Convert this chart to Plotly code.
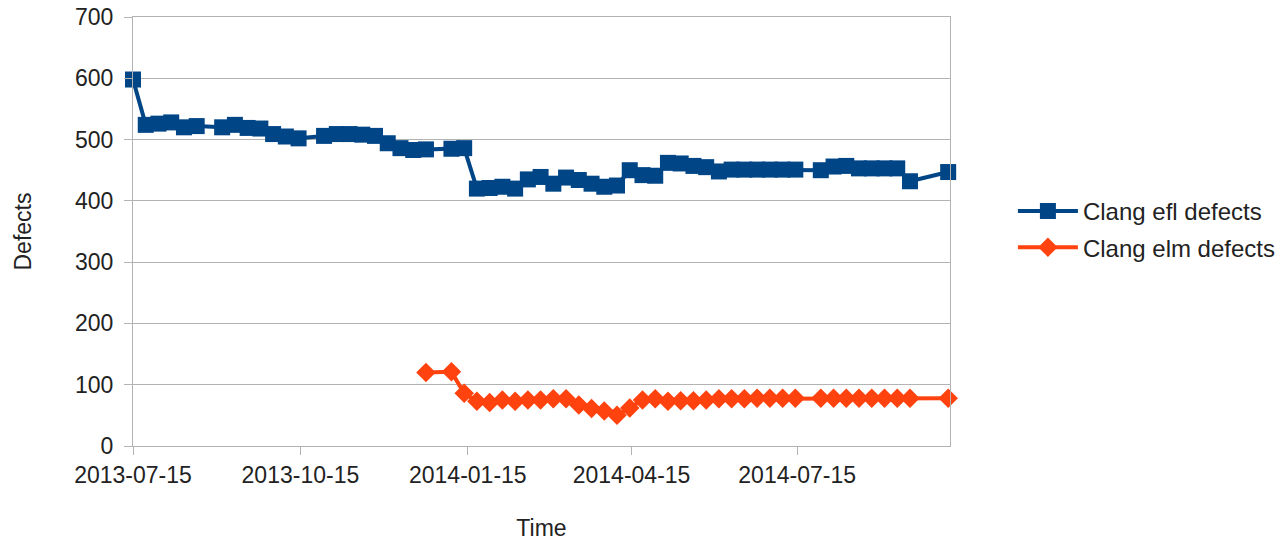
import plotly.graph_objects as go

efl_dates = [
    "2013-07-15", "2013-07-22", "2013-07-29", "2013-08-05", "2013-08-12", "2013-08-19",
    "2013-09-02", "2013-09-09", "2013-09-16", "2013-09-23", "2013-09-30", "2013-10-07",
    "2013-10-14", "2013-10-28", "2013-11-04", "2013-11-11", "2013-11-18", "2013-11-25",
    "2013-12-02", "2013-12-09", "2013-12-16", "2013-12-23", "2014-01-06", "2014-01-13",
    "2014-01-20", "2014-01-27", "2014-02-03", "2014-02-10", "2014-02-17", "2014-02-24",
    "2014-03-03", "2014-03-10", "2014-03-17", "2014-03-24", "2014-03-31", "2014-04-07",
    "2014-04-14", "2014-04-21", "2014-04-28", "2014-05-05", "2014-05-12", "2014-05-19",
    "2014-05-26", "2014-06-02", "2014-06-09", "2014-06-16", "2014-06-23", "2014-06-30",
    "2014-07-07", "2014-07-14", "2014-07-28", "2014-08-04", "2014-08-11", "2014-08-18",
    "2014-08-25", "2014-09-01", "2014-09-08", "2014-09-15", "2014-10-06",
]
efl_values = [
    598, 524, 526, 528, 520, 522,
    520, 524, 519, 518, 509, 505,
    502, 506, 509, 509, 508, 506,
    494, 486, 483, 484, 485, 486,
    420, 421, 423, 420, 435, 439,
    428, 438, 434, 428, 423, 425,
    450, 442, 441, 462, 461, 457,
    455, 448, 451, 451, 451, 451,
    451, 451, 450, 456, 457, 453,
    453, 453, 453, 432, 447,
]

elm_dates = [
    "2013-12-23", "2014-01-06", "2014-01-13", "2014-01-20", "2014-01-27", "2014-02-03",
    "2014-02-10", "2014-02-17", "2014-02-24", "2014-03-03", "2014-03-10", "2014-03-17",
    "2014-03-24", "2014-03-31", "2014-04-07", "2014-04-14", "2014-04-21", "2014-04-28",
    "2014-05-05", "2014-05-12", "2014-05-19", "2014-05-26", "2014-06-02", "2014-06-09",
    "2014-06-16", "2014-06-23", "2014-06-30", "2014-07-07", "2014-07-14", "2014-07-28",
    "2014-08-04", "2014-08-11", "2014-08-18", "2014-08-25", "2014-09-01", "2014-09-08",
    "2014-09-15", "2014-10-06",
]
elm_values = [
    120, 121, 86, 73, 71, 75,
    73, 75, 75, 77, 77, 67,
    61, 57, 50, 62, 75, 77,
    73, 74, 74, 75, 77, 77,
    77, 78, 78, 78, 78, 78,
    78, 78, 78, 78, 78, 78,
    78, 78,
]

x_tick_vals = ["2013-07-15", "2013-10-15", "2014-01-15", "2014-04-15", "2014-07-15"]
x_tick_text = ["2013-07-15", "2013-10-15", "2014-01-15", "2014-04-15", "2014-07-15"]
y_tick_vals = [0, 100, 200, 300, 400, 500, 600, 700]

BLUE = "#004586"
ORANGE = "#ff420e"
GRID = "#b3b3b3"
FONT = "Liberation Sans"
TXT = "#222222"

fig = go.Figure()
fig.add_trace(go.Scatter(
    x=efl_dates, y=efl_values, mode="lines+markers", name="Clang efl defects",
    line=dict(color=BLUE, width=4),
    marker=dict(symbol="square", size=16, color=BLUE),
    legendgroup="a", cliponaxis=False,
))
fig.add_trace(go.Scatter(
    x=elm_dates, y=elm_values, mode="lines+markers", name="Clang elm defects",
    line=dict(color=ORANGE, width=4),
    marker=dict(symbol="diamond", size=15, color=ORANGE),
    legendgroup="b", cliponaxis=False,
))

fig.update_layout(
    width=1286, height=541,
    margin=dict(l=133, r=336, t=17, b=95, autoexpand=False),
    paper_bgcolor="white", plot_bgcolor="white",
    font=dict(family=FONT, size=23, color=TXT),
    legend=dict(x=1.077, xanchor="left", y=0.505, yanchor="middle",
                font=dict(family=FONT, size=24, color=TXT),
                traceorder="grouped", tracegroupgap=2, itemwidth=60,
                bgcolor="rgba(0,0,0,0)"),
    showlegend=True,
)
fig.update_xaxes(
    type="date", range=["2013-07-15", "2014-10-07"],
    tickvals=x_tick_vals, ticktext=x_tick_text,
    showgrid=False, showline=True, linecolor=GRID, linewidth=1, mirror=True,
    ticks="outside", ticklen=8, tickcolor=GRID,
    tickfont=dict(family=FONT, size=23, color=TXT),
    title=dict(text="Time", font=dict(family=FONT, size=23, color=TXT), standoff=34),
    zeroline=False, automargin=False,
)
fig.update_yaxes(
    range=[0, 700], tickvals=y_tick_vals,
    showgrid=True, gridcolor=GRID, gridwidth=1,
    showline=True, linecolor=GRID, linewidth=1, mirror=True,
    ticks="outside", ticklen=8, tickcolor=GRID, ticklabelstandoff=6,
    tickfont=dict(family=FONT, size=23, color=TXT),
    title=dict(text="Defects", font=dict(family=FONT, size=23, color=TXT), standoff=36),
    zeroline=False, automargin=False,
)

fig.write_html("out.html", config={"displayModeBar": False},
               post_script="document.body.style.margin='0';")
